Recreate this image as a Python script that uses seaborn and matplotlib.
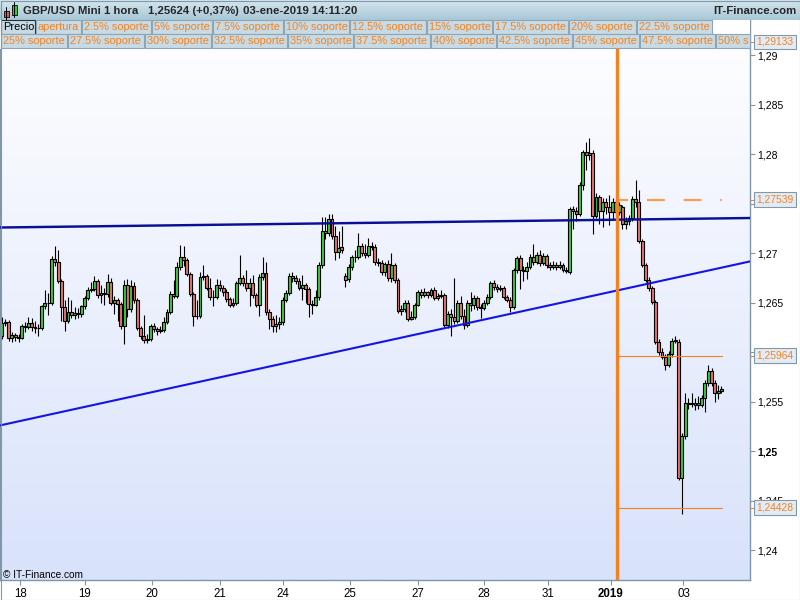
import numpy as np
import pandas as pd
import matplotlib
matplotlib.use("Agg")
import matplotlib.pyplot as plt
import matplotlib.transforms as mtransforms
from matplotlib.colors import LinearSegmentedColormap
from matplotlib.patches import Rectangle
import seaborn as sns

# ---------------- data (GBP/USD Mini, 1 hora) ----------------
opens = [
 1.2616, 1.2629, 1.2630, 1.2614, 1.2617, 1.2615, 1.2614, 1.2626, 1.2625, 1.2629,
 1.2625, 1.2624, 1.2624, 1.2646, 1.2650, 1.2650, 1.2694, 1.2691, 1.2672, 1.2645,
 1.2631, 1.2640, 1.2637, 1.2639, 1.2638, 1.2646, 1.2655, 1.2663, 1.2664, 1.2672,
 1.2658, 1.2660, 1.2659, 1.2671, 1.2650, 1.2653, 1.2649, 1.2626, 1.2668, 1.2643,
 1.2667, 1.2653, 1.2624, 1.2616, 1.2612, 1.2613, 1.2626, 1.2623, 1.2621, 1.2622,
 1.2630, 1.2640, 1.2659, 1.2657, 1.2686, 1.2696, 1.2693, 1.2679, 1.2659, 1.2636,
 1.2636, 1.2676, 1.2677, 1.2665, 1.2656, 1.2656, 1.2668, 1.2665, 1.2661, 1.2654,
 1.2648, 1.2650, 1.2670, 1.2675, 1.2670, 1.2665, 1.2670, 1.2658, 1.2647, 1.2676,
 1.2680, 1.2640, 1.2633, 1.2626, 1.2628, 1.2630, 1.2653, 1.2660, 1.2677, 1.2675,
 1.2672, 1.2665, 1.2668, 1.2664, 1.2649, 1.2648, 1.2656, 1.2688, 1.2722, 1.2720,
 1.2734, 1.2717, 1.2701, 1.2706, 1.2677, 1.2674, 1.2686, 1.2696, 1.2696, 1.2707,
 1.2700, 1.2698, 1.2707, 1.2706, 1.2691, 1.2690, 1.2681, 1.2689, 1.2675, 1.2688,
 1.2673, 1.2641, 1.2643, 1.2650, 1.2633, 1.2635, 1.2648, 1.2661, 1.2658, 1.2661,
 1.2658, 1.2663, 1.2655, 1.2657, 1.2658, 1.2627, 1.2638, 1.2635, 1.2631, 1.2650,
 1.2636, 1.2627, 1.2650, 1.2647, 1.2655, 1.2645, 1.2644, 1.2650, 1.2656, 1.2670,
 1.2666, 1.2664, 1.2665, 1.2656, 1.2653, 1.2645, 1.2683, 1.2695, 1.2683, 1.2682,
 1.2686, 1.2696, 1.2691, 1.2698, 1.2690, 1.2697, 1.2688, 1.2686, 1.2688, 1.2686,
 1.2688, 1.2683, 1.2681, 1.2744, 1.2742, 1.2739, 1.2769, 1.2802, 1.2799, 1.2801,
 1.2737, 1.2757, 1.2742, 1.2752, 1.2746, 1.2741, 1.2752, 1.2741, 1.2747, 1.2729,
 1.2732, 1.2735, 1.2755, 1.2752, 1.2712, 1.2688, 1.2673, 1.2665, 1.2651, 1.2610,
 1.2600, 1.2595, 1.2587, 1.2598, 1.2611, 1.2610, 1.2473, 1.2515, 1.2549, 1.2547,
 1.2548, 1.2546, 1.2546, 1.2554, 1.2569, 1.2581, 1.2569, 1.2559, 1.2561]
highs = [
 1.2635, 1.2633, 1.2632, 1.2620, 1.2619, 1.2618, 1.2628, 1.2630, 1.2635, 1.2634,
 1.2631, 1.2628, 1.2648, 1.2663, 1.2660, 1.2697, 1.2707, 1.2703, 1.2674, 1.2653,
 1.2656, 1.2653, 1.2645, 1.2644, 1.2648, 1.2657, 1.2666, 1.2671, 1.2677, 1.2674,
 1.2668, 1.2665, 1.2679, 1.2675, 1.2657, 1.2655, 1.2651, 1.2673, 1.2674, 1.2673,
 1.2671, 1.2655, 1.2626, 1.2637, 1.2618, 1.2628, 1.2629, 1.2625, 1.2626, 1.2635,
 1.2643, 1.2662, 1.2673, 1.2691, 1.2708, 1.2707, 1.2695, 1.2681, 1.2661, 1.2653,
 1.2681, 1.2688, 1.2679, 1.2675, 1.2663, 1.2674, 1.2673, 1.2668, 1.2664, 1.2656,
 1.2655, 1.2672, 1.2698, 1.2678, 1.2683, 1.2675, 1.2678, 1.2660, 1.2679, 1.2696,
 1.2691, 1.2643, 1.2636, 1.2637, 1.2635, 1.2656, 1.2663, 1.2680, 1.2681, 1.2678,
 1.2675, 1.2678, 1.2670, 1.2666, 1.2653, 1.2663, 1.2691, 1.2736, 1.2736, 1.2739,
 1.2739, 1.2727, 1.2722, 1.2727, 1.2680, 1.2689, 1.2698, 1.2703, 1.2720, 1.2710,
 1.2709, 1.2715, 1.2711, 1.2709, 1.2695, 1.2693, 1.2691, 1.2693, 1.2700, 1.2690,
 1.2675, 1.2648, 1.2653, 1.2653, 1.2641, 1.2650, 1.2663, 1.2664, 1.2665, 1.2662,
 1.2665, 1.2666, 1.2660, 1.2663, 1.2660, 1.2641, 1.2643, 1.2675, 1.2653, 1.2657,
 1.2643, 1.2653, 1.2661, 1.2658, 1.2657, 1.2649, 1.2653, 1.2659, 1.2672, 1.2673,
 1.2669, 1.2668, 1.2667, 1.2658, 1.2656, 1.2685, 1.2697, 1.2698, 1.2687, 1.2691,
 1.2699, 1.2709, 1.2701, 1.2703, 1.2700, 1.2699, 1.2691, 1.2692, 1.2691, 1.2692,
 1.2690, 1.2686, 1.2746, 1.2748, 1.2746, 1.2772, 1.2804, 1.2812, 1.2816, 1.2804,
 1.2761, 1.2759, 1.2756, 1.2756, 1.2759, 1.2756, 1.2755, 1.2752, 1.2749, 1.2736,
 1.2738, 1.2758, 1.2774, 1.2764, 1.2714, 1.2690, 1.2676, 1.2667, 1.2653, 1.2613,
 1.2604, 1.2598, 1.2601, 1.2614, 1.2616, 1.2613, 1.2518, 1.2559, 1.2554, 1.2559,
 1.2554, 1.2556, 1.2557, 1.2572, 1.2587, 1.2584, 1.2572, 1.2567, 1.2566]
lows = [
 1.2613, 1.2626, 1.2611, 1.2610, 1.2611, 1.2610, 1.2613, 1.2620, 1.2623, 1.2621,
 1.2619, 1.2616, 1.2622, 1.2643, 1.2637, 1.2648, 1.2687, 1.2670, 1.2631, 1.2621,
 1.2629, 1.2634, 1.2633, 1.2634, 1.2635, 1.2643, 1.2653, 1.2661, 1.2662, 1.2655,
 1.2650, 1.2648, 1.2656, 1.2647, 1.2638, 1.2631, 1.2623, 1.2608, 1.2635, 1.2640,
 1.2650, 1.2622, 1.2613, 1.2609, 1.2609, 1.2611, 1.2620, 1.2617, 1.2619, 1.2620,
 1.2628, 1.2638, 1.2655, 1.2655, 1.2683, 1.2687, 1.2677, 1.2657, 1.2626, 1.2633,
 1.2634, 1.2673, 1.2663, 1.2653, 1.2646, 1.2654, 1.2662, 1.2657, 1.2651, 1.2645,
 1.2645, 1.2647, 1.2668, 1.2667, 1.2662, 1.2646, 1.2655, 1.2645, 1.2636, 1.2673,
 1.2637, 1.2623, 1.2620, 1.2620, 1.2623, 1.2627, 1.2651, 1.2658, 1.2671, 1.2669,
 1.2663, 1.2653, 1.2650, 1.2635, 1.2638, 1.2646, 1.2653, 1.2685, 1.2714, 1.2717,
 1.2714, 1.2693, 1.2695, 1.2700, 1.2666, 1.2671, 1.2683, 1.2691, 1.2694, 1.2697,
 1.2695, 1.2696, 1.2703, 1.2688, 1.2687, 1.2678, 1.2677, 1.2672, 1.2671, 1.2670,
 1.2639, 1.2637, 1.2640, 1.2631, 1.2632, 1.2633, 1.2646, 1.2655, 1.2656, 1.2655,
 1.2656, 1.2653, 1.2653, 1.2655, 1.2625, 1.2624, 1.2616, 1.2628, 1.2629, 1.2633,
 1.2623, 1.2625, 1.2641, 1.2643, 1.2642, 1.2634, 1.2642, 1.2648, 1.2654, 1.2663,
 1.2661, 1.2662, 1.2654, 1.2651, 1.2640, 1.2643, 1.2680, 1.2664, 1.2672, 1.2674,
 1.2684, 1.2688, 1.2689, 1.2687, 1.2688, 1.2685, 1.2683, 1.2684, 1.2683, 1.2684,
 1.2681, 1.2680, 1.2679, 1.2724, 1.2732, 1.2737, 1.2764, 1.2784, 1.2794, 1.2719,
 1.2735, 1.2729, 1.2726, 1.2739, 1.2728, 1.2734, 1.2732, 1.2738, 1.2724, 1.2724,
 1.2728, 1.2732, 1.2746, 1.2710, 1.2686, 1.2671, 1.2662, 1.2649, 1.2608, 1.2597,
 1.2593, 1.2582, 1.2585, 1.2595, 1.2609, 1.2471, 1.2436, 1.2512, 1.2542, 1.2544,
 1.2541, 1.2542, 1.2544, 1.2539, 1.2566, 1.2566, 1.2550, 1.2553, 1.2559]
closes = [
 1.2629, 1.2630, 1.2614, 1.2617, 1.2615, 1.2614, 1.2626, 1.2625, 1.2629, 1.2625,
 1.2624, 1.2624, 1.2646, 1.2650, 1.2650, 1.2694, 1.2691, 1.2672, 1.2645, 1.2631,
 1.2640, 1.2637, 1.2639, 1.2638, 1.2646, 1.2655, 1.2663, 1.2664, 1.2672, 1.2658,
 1.2660, 1.2659, 1.2671, 1.2650, 1.2653, 1.2649, 1.2626, 1.2668, 1.2643, 1.2667,
 1.2653, 1.2624, 1.2616, 1.2612, 1.2613, 1.2626, 1.2623, 1.2621, 1.2622, 1.2630,
 1.2640, 1.2659, 1.2657, 1.2686, 1.2696, 1.2693, 1.2679, 1.2659, 1.2636, 1.2636,
 1.2676, 1.2677, 1.2665, 1.2656, 1.2656, 1.2668, 1.2665, 1.2661, 1.2654, 1.2648,
 1.2650, 1.2670, 1.2675, 1.2670, 1.2665, 1.2670, 1.2658, 1.2647, 1.2676, 1.2680,
 1.2640, 1.2633, 1.2626, 1.2628, 1.2630, 1.2653, 1.2660, 1.2677, 1.2675, 1.2672,
 1.2665, 1.2668, 1.2664, 1.2649, 1.2648, 1.2656, 1.2688, 1.2722, 1.2720, 1.2734,
 1.2717, 1.2701, 1.2705, 1.2703, 1.2673, 1.2686, 1.2696, 1.2696, 1.2707, 1.2700,
 1.2698, 1.2707, 1.2706, 1.2691, 1.2690, 1.2681, 1.2689, 1.2675, 1.2688, 1.2673,
 1.2641, 1.2643, 1.2650, 1.2633, 1.2635, 1.2648, 1.2661, 1.2658, 1.2661, 1.2658,
 1.2663, 1.2655, 1.2657, 1.2658, 1.2627, 1.2638, 1.2635, 1.2631, 1.2650, 1.2636,
 1.2627, 1.2650, 1.2647, 1.2655, 1.2645, 1.2644, 1.2650, 1.2656, 1.2670, 1.2666,
 1.2664, 1.2665, 1.2656, 1.2653, 1.2645, 1.2683, 1.2695, 1.2683, 1.2682, 1.2686,
 1.2696, 1.2691, 1.2698, 1.2690, 1.2697, 1.2688, 1.2686, 1.2688, 1.2686, 1.2688,
 1.2683, 1.2682, 1.2744, 1.2742, 1.2739, 1.2769, 1.2802, 1.2799, 1.2801, 1.2737,
 1.2757, 1.2742, 1.2752, 1.2746, 1.2741, 1.2752, 1.2741, 1.2749, 1.2729, 1.2732,
 1.2735, 1.2755, 1.2752, 1.2712, 1.2688, 1.2673, 1.2665, 1.2651, 1.2610, 1.2600,
 1.2595, 1.2587, 1.2598, 1.2611, 1.2612, 1.2473, 1.2515, 1.2549, 1.2547, 1.2548,
 1.2546, 1.2549, 1.2554, 1.2569, 1.2581, 1.2569, 1.2559, 1.2561, 1.25624]

# day labels and the candle index where each day starts
day_labels = ['18', '19', '20', '21', '24', '25', '27', '28', '31', '2019', '03']
day_start_idx = [5.5, 25, 45.5, 66, 85, 105.5, 126, 146, 165.5, 184.5, 206.5]

# price axis ticks (1,275 and 1,26 sit under the value boxes)
y_ticks = [1.24, 1.245, 1.25, 1.255, 1.26, 1.265, 1.27, 1.275, 1.28, 1.285, 1.29]
y_tick_labels = ['1,24', '1,245', '1,25', '1,255', '', '1,265', '1,27',
                 '', '1,28', '1,285', '1,29']

# trend lines (two anchor candles each)
resist_idx = [0, 218]
resist_price = [1.27258, 1.27350]
support_idx = [0, 218]
support_price = [1.25263, 1.26852]

# "soporte" tool: start / end candle and marked levels
fib_start_idx = 186.4
fib_end_idx = 218.3
level_dashed = 1.27539
levels_thin = [1.25964, 1.24428]
level_top = 1.29133
axis_levels = [1.29133, 1.27539, 1.25964, 1.24428]

header_items = ['GBP/USD Mini', '1 hora', '1,25624 (+0,37%)', '03-ene-2019 14:11:20']
legend_row1 = ['Precio', 'apertura', '2.5% soporte', '5% soporte', '7.5% soporte',
               '10% soporte', '12.5% soporte', '15% soporte', '17.5% soporte',
               '20% soporte', '22.5% soporte']
legend_row2 = ['25% soporte', '27.5% soporte', '30% soporte', '32.5% soporte',
               '35% soporte', '37.5% soporte', '40% soporte', '42.5% soporte',
               '45% soporte', '47.5% soporte', '50% soporte']

# ---------------- style ----------------
sns.set_theme(style="white")
plt.rcParams['font.family'] = ['Liberation Sans', 'DejaVu Sans']

ORANGE = '#f5821f'
GREEN = '#3ccc3c'
RED = '#e8736c'
AXC = '#7f97a7'

W, H = 800, 600
fig = plt.figure(figsize=(8, 6), dpi=100)
fig.patch.set_facecolor('white')


def fr(x0, y0, x1, y1):
    return [x0 / W, 1 - y1 / H, (x1 - x0) / W, (y1 - y0) / H]


PLOT = (0, 20, 750, 580)
grad = np.linspace(0, 1, 256).reshape(-1, 1)

bg = fig.add_axes(fr(*PLOT), zorder=0)
bg.imshow(grad, aspect='auto', origin='upper', extent=[0, 1, 0, 1],
          cmap=LinearSegmentedColormap.from_list('bg', ['#ffffff', '#d8e2fb']))
bg.set_axis_off()

ax = fig.add_axes(fr(*PLOT), zorder=1)
ax.patch.set_alpha(0)

df = pd.DataFrame({'i': np.arange(len(closes)), 'open': opens, 'high': highs,
                   'low': lows, 'close': closes})
df['bottom'] = df[['open', 'close']].min(axis=1)
df['height'] = (df['close'] - df['open']).abs()
colors = np.where(df['close'] >= df['open'], GREEN, RED)

ax.vlines(df['i'], df['low'], df['high'], color='black', lw=0.8, zorder=3)
ax.bar(df['i'], df['height'], bottom=df['bottom'], width=0.86, color=colors,
       edgecolor='black', linewidth=0.8, zorder=4)

# trend lines
ax.axline((resist_idx[0], resist_price[0]), (resist_idx[1], resist_price[1]),
          color='#0a0f96', lw=1.75, zorder=5)
ax.axline((support_idx[0], support_price[0]), (support_idx[1], support_price[1]),
          color='#1414e6', lw=1.5, zorder=5)

# soporte levels
for lv in levels_thin:
    sns.lineplot(x=[fib_start_idx, fib_end_idx], y=[lv, lv], ax=ax,
                 color=ORANGE, lw=0.8, zorder=5)
ax.plot([fib_start_idx, fib_end_idx], [level_dashed, level_dashed],
        color='#f4a050', lw=1.6, ls=(3, (8, 8.5)), zorder=5)
ax.plot([fib_start_idx, fib_end_idx], [level_top, level_top],
        color=ORANGE, lw=0.8, zorder=5)
ax.axvline(fib_start_idx, color=ORANGE, lw=2.4, zorder=6)

ax.set_xlim(-2 / 3.3, 748 / 3.3)
ax.set_ylim(1.23697, 1.29354)

ax.yaxis.tick_right()
ax.set_yticks(y_ticks)
ax.set_yticklabels(y_tick_labels)
for t in ax.get_yticklabels():
    if t.get_text() == '1,25':
        t.set_fontweight('bold')
ax.set_xticks(day_start_idx)
ax.set_xticklabels(day_labels)
for t in ax.get_xticklabels():
    if t.get_text() == '2019':
        t.set_fontweight('bold')
ax.tick_params(axis='y', which='both', direction='out', length=3.6, width=0.8,
               color=AXC, labelcolor='black', labelsize=7.5, pad=1.5,
               right=True, left=False)
ax.tick_params(axis='x', which='both', direction='out', length=3.6, width=0.8,
               color=AXC, labelcolor='black', labelsize=8.3, pad=2,
               bottom=True)
ax.grid(False)
for s in ['left', 'right', 'bottom']:
    ax.spines[s].set_color(AXC)
    ax.spines[s].set_linewidth(1.0)
ax.spines['top'].set_visible(False)

# value boxes on the price axis
blend = mtransforms.blended_transform_factory(ax.transAxes, ax.transData)
for lv in axis_levels:
    ax.plot([1.0, 1.0067], [lv, lv], color=ORANGE, lw=0.8, transform=blend,
            clip_on=False, zorder=7)
    ax.text(1.0088, lv, f"{lv:.5f}".replace('.', ','), transform=blend,
            ha='left', va='center', fontsize=7.4, color=ORANGE, zorder=8,
            clip_on=False,
            bbox=dict(boxstyle='square,pad=0.22', fc='#e3ecf6', ec='#8299aa', lw=0.8))

# ---------------- overlay: header, legend, credits ----------------
ov = fig.add_axes([0, 0, 1, 1], zorder=5)
ov.patch.set_alpha(0)
ov.imshow(grad, aspect='auto', origin='upper', extent=[0, 800, 20, 0],
          cmap=LinearSegmentedColormap.from_list('hd', ['#d4e6ee', '#a8c7d6']))
ov.set_xlim(0, W)
ov.set_ylim(H, 0)
ov.set_axis_off()

# candle icon
ov.plot([6, 6], [7, 20], color='black', lw=0.7)
ov.add_patch(Rectangle((3.5, 10.5), 5, 6.5, fc='#e25555', ec='black', lw=0.6))
ov.plot([14, 14], [2, 17], color='black', lw=0.7)
ov.add_patch(Rectangle((11.5, 5), 5, 10, fc='#33cc33', ec='black', lw=0.6))

hx = [23, 104, 148, 243]
for x, s in zip(hx, header_items):
    ov.text(x, 11, s, fontsize=8.2, fontweight='bold', va='center', ha='left')
ov.text(796, 11, 'IT-Finance.com', fontsize=8.2, fontweight='bold',
        va='center', ha='right')

# white strip behind the legend (covers the vertical line top)
ov.add_patch(Rectangle((0, 19.5), 750, 29, fc='white', ec='none'))

row1_edges = [0, 35, 81, 151, 212, 283, 349, 426, 492, 568, 636, 712]
row2_edges = [0, 67, 144, 211, 287, 353, 430, 496, 572, 639, 715, 750]
for (y0, y1), labels, edges in [((20, 33.5), legend_row1, row1_edges),
                                ((33.5, 47.5), legend_row2, row2_edges)]:
    for k, lab in enumerate(labels):
        x0, x1 = edges[k], edges[k + 1]
        is_price = lab == 'Precio'
        r = Rectangle((x0 + 0.5, y0), x1 - x0 - 1, y1 - y0, fc='#c8dbe5',
                      ec='#303030' if is_price else '#8ea5b5', lw=0.8)
        ov.add_patch(r)
        t = ov.text(x0 + 3, (y0 + y1) / 2 + 0.5, lab, fontsize=7.9, va='center',
                    ha='left', color='black' if is_price else ORANGE)
        t.set_clip_on(True)
        t.set_clip_box(mtransforms.TransformedBbox(
            mtransforms.Bbox([[x0, y0], [x1 - 1, y1]]), ov.transData))

ov.text(3, 575, '\u00a9 IT-Finance.com', fontsize=7.3, va='center', ha='left',
        color='black')
ov.add_patch(Rectangle((0.5, 0.5), W - 1, H - 1, fill=False, ec='#8098a8', lw=0.8))

fig.savefig('out.png', dpi=100)
